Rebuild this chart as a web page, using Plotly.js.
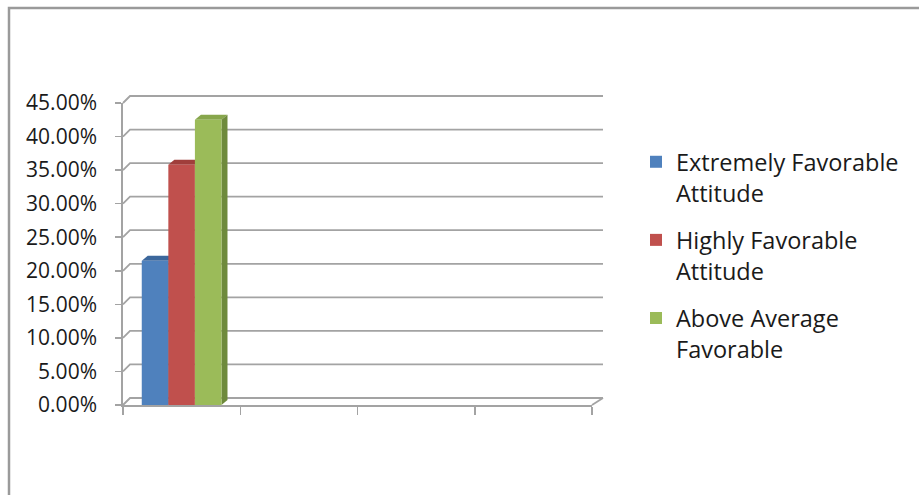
<!DOCTYPE html>
<html>
<head>
<meta charset="utf-8">
<script src="https://cdn.plot.ly/plotly-3.0.1.min.js"></script>
<style>
  html, body { margin: 0; padding: 0; background: #ffffff; }
  #chart { width: 919px; height: 495px; }
</style>
</head>
<body>
<div id="chart"></div>
<script>
// Category slots on the horizontal axis (only the first one holds data)
const slots = [1, 2, 3, 4];

// Series names and their shares
const seriesNames = [
  "Extremely Favorable<br>Attitude",
  "Highly Favorable<br>Attitude",
  "Above Average<br>Favorable"
];
const extremelyFavorable = [0.215, null, null, null];
const highlyFavorable = [0.358, null, null, null];
const aboveAverageFavorable = [0.425, null, null, null];

// Value-axis ticks
const yTickVals = [0, 0.05, 0.10, 0.15, 0.20, 0.25, 0.30, 0.35, 0.40, 0.45];

// ---- styling / geometry ----
const W = 919, H = 495;
const plotL = 123, plotR = 592, plotT = 103, plotB = 405;
const plotW = plotR - plotL, plotH = plotB - plotT;
const xMin = 0.5, xMax = 4.5, yMax = 0.45;
const pxPerX = plotW / (xMax - xMin);
const pxPerY = plotH / yMax;

const frontColors = ["#4F81BD", "#C0504D", "#9BBB59"];
const topColors = ["#3C679C", "#A03E3B", "#87A64C"];
const sideColors = ["#385D8A", "#8C3836", "#6E8A3C"];
const gridColor = "#a3a3a3";
const tickFont = { family: "Open Sans, sans-serif", size: 21, color: "#1a1a1a" };
const legendFont = { family: "Open Sans, sans-serif", size: 23.5, color: "#1a1a1a" };

const barGap = 0.32;
const barW = (1 - barGap) / 3;
const barOffsets = [-1.5 * barW, -0.5 * barW, 0.5 * barW];

// depth of the 3-D look, in pixels
const wallDxL = 7, wallDxR = 11, wallDy = 7;
const barDx = 6, barDy = 5;

// convert data coordinates (+ pixel nudges) to paper coordinates
function px(xData, dpx) { return ((xData - xMin) * pxPerX + (dpx || 0)) / plotW; }
function py(yData, dpy) { return (yData * pxPerY + (dpy || 0)) / plotH; }
function pathOf(pts) {
  return "M" + pts.map(p => p[0].toFixed(5) + "," + p[1].toFixed(5)).join("L") + "Z";
}
function openPath(pts) {
  return "M" + pts.map(p => p[0].toFixed(5) + "," + p[1].toFixed(5)).join("L");
}

const seriesValues = [extremelyFavorable, highlyFavorable, aboveAverageFavorable];

const shapes = [];

// chart-area border (left and top edges)
shapes.push({
  type: "path", xref: "paper", yref: "paper", layer: "below",
  path: openPath([[-(plotL - 9) / plotW, -(H - plotB + 5) / plotH],
                  [-(plotL - 9) / plotW, (plotB - 8) / plotH],
                  [(W + 5 - plotL) / plotW, (plotB - 8) / plotH]]),
  line: { color: "#9a9a9a", width: 2.5 }
});

// back-wall gridlines with their short connectors to the value axis
yTickVals.forEach(t => {
  shapes.push({
    type: "path", xref: "paper", yref: "paper", layer: "below",
    path: openPath([[px(xMin), py(t)], [px(xMin, wallDxL), py(t, wallDy)], [px(xMax, wallDxR), py(t, wallDy)]]),
    line: { color: gridColor, width: 1.8 }
  });
});
// right edge of the floor
shapes.push({
  type: "path", xref: "paper", yref: "paper", layer: "below",
  path: openPath([[px(xMax), py(0)], [px(xMax, wallDxR), py(0, wallDy)]]),
  line: { color: gridColor, width: 1.8 }
});

// top and side faces of each column
seriesValues.forEach((vals, si) => {
  vals.forEach((v, k) => {
    if (v === null) return;
    const x0 = slots[k] + barOffsets[si];
    const x1 = x0 + barW;
    shapes.push({
      type: "path", xref: "paper", yref: "paper", layer: "below",
      path: pathOf([[px(x0), py(v)], [px(x1), py(v)], [px(x1, barDx), py(v, barDy)], [px(x0, barDx), py(v, barDy)]]),
      fillcolor: topColors[si], line: { width: 0 }
    });
    shapes.push({
      type: "path", xref: "paper", yref: "paper", layer: "below",
      path: pathOf([[px(x1), py(0)], [px(x1), py(v)], [px(x1, barDx), py(v, barDy)], [px(x1, barDx), py(0, barDy)]]),
      fillcolor: sideColors[si], line: { width: 0 }
    });
  });
});

const traces = seriesValues.map((vals, si) => ({
  type: "bar",
  name: seriesNames[si],
  x: slots,
  y: vals,
  width: barW,
  offset: barOffsets[si],
  marker: { color: frontColors[si], line: { width: 0 } },
  legendgroup: "g" + si,
  hoverinfo: "skip"
}));

const layout = {
  width: W,
  height: H,
  margin: { l: plotL, r: W - plotR, t: plotT, b: H - plotB, pad: 0 },
  paper_bgcolor: "#ffffff",
  plot_bgcolor: "rgba(0,0,0,0)",
  showlegend: true,
  barmode: "overlay",
  font: tickFont,
  xaxis: {
    type: "linear",
    range: [xMin, xMax],
    tickmode: "array",
    tickvals: [0.5, 1.5, 2.5, 3.5, 4.5],
    showticklabels: false,
    ticks: "outside",
    ticklen: 8,
    tickwidth: 1.5,
    tickcolor: gridColor,
    showline: true,
    linecolor: gridColor,
    linewidth: 1.8,
    showgrid: false,
    zeroline: false,
    fixedrange: true
  },
  yaxis: {
    range: [0, yMax],
    tickmode: "array",
    tickvals: yTickVals,
    tickformat: ".2%",
    ticks: "outside",
    ticklen: 6,
    tickwidth: 1.5,
    tickcolor: gridColor,
    ticklabelstandoff: 14,
    showline: true,
    linecolor: gridColor,
    linewidth: 1.8,
    showgrid: false,
    zeroline: false,
    tickfont: tickFont,
    fixedrange: true
  },
  legend: {
    xref: "container",
    yref: "container",
    x: 636 / W,
    xanchor: "left",
    y: 1 - 140 / H,
    yanchor: "top",
    valign: "top",
    traceorder: "grouped",
    tracegroupgap: 14,
    font: legendFont,
    bgcolor: "rgba(0,0,0,0)",
    borderwidth: 0
  },
  shapes: shapes
};

Plotly.newPlot("chart", traces, layout, { staticPlot: true, displayModeBar: false });
</script>
</body>
</html>
